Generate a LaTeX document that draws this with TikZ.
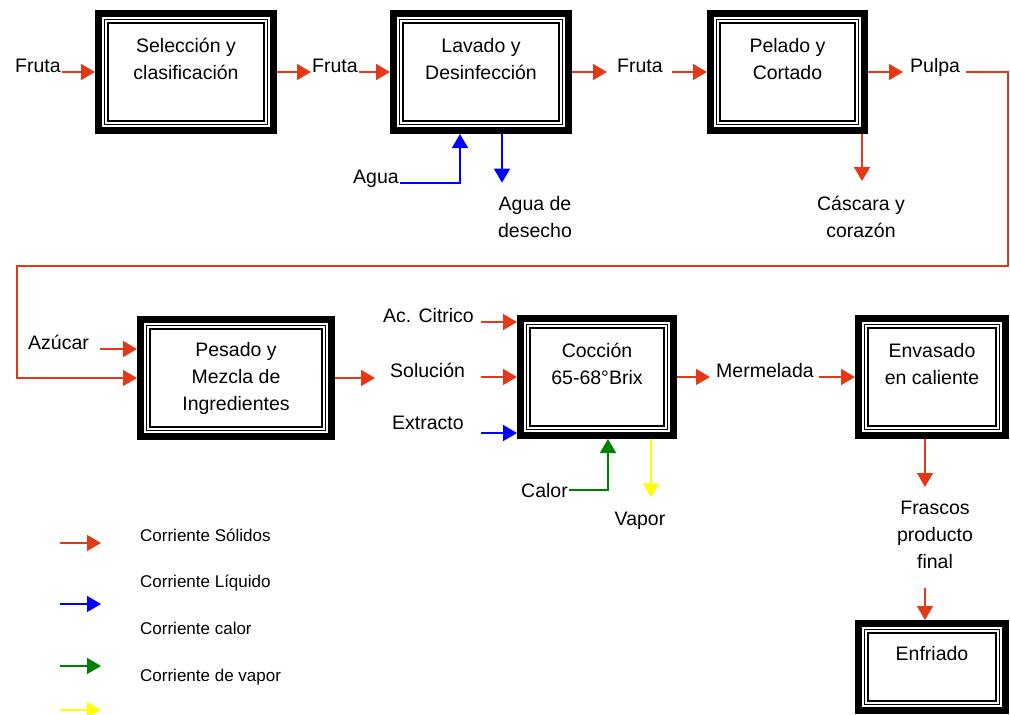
\documentclass[tikz,border=0pt]{standalone}
\usepackage{fontspec}
\setmainfont{Liberation Sans}
\usetikzlibrary{arrows.meta,positioning,calc}
\definecolor{solred}{RGB}{226,58,24}
\definecolor{liqblue}{RGB}{0,0,255}
\definecolor{calgreen}{RGB}{0,128,0}
\definecolor{vapyellow}{RGB}{255,255,0}
\newcommand\boxfont{\fontsize{19.5}{27}\selectfont}
\newcommand\legfont{\fontsize{17}{20}\selectfont}
\tikzset{
  proc/.style = {draw, line width = 7pt, align = center, font = \boxfont, inner sep = 0pt},
  lbl/.style = {align = center, font = \boxfont, inner sep = 1pt},
  leg/.style = {anchor = base west, font = \legfont, inner sep = 0pt},
  flow/.style = {line width = 1.6pt, -{Triangle[length = 14pt, width = 16pt]}},
  sol/.style = {flow, solred},
  liq/.style = {flow, liqblue},
  cal/.style = {flow, calgreen},
  vap/.style = {flow, vapyellow},
}

\begin{document}
\begin{tikzpicture}[x = 1pt, y = -1pt]
\useasboundingbox (0,0) rectangle (1010,715);
\node[proc, minimum width = 175, minimum height = 117] (sel) at (186,72) {Selección y\\clasificación\\\mbox{}};
\node[proc, minimum width = 175, minimum height = 117] (lav) at (481,72) {Lavado y\\Desinfección\\\mbox{}};
\node[proc, minimum width = 154, minimum height = 117] (pel) at (787.5,72) {Pelado y\\Cortado\\\mbox{}};
\node[proc, minimum width = 191, minimum height = 117] (pes) at (236,378) {Pesado y\\Mezcla de\\Ingredientes};
\node[proc, minimum width = 153, minimum height = 117] (coc) at (597,377) {Cocción\\65-68°Brix\\\mbox{}};
\node[proc, minimum width = 147, minimum height = 117] (env) at (932,377) {Envasado\\en caliente\\\mbox{}};
\node[proc, minimum width = 147, minimum height = 87] (enf) at (932,667) {Enfriado\\\mbox{}};
\foreach \n in {sel,lav,pel,pes,coc,env,enf}
  \draw[double, line width = 1.7pt, double distance = 2pt] ([shift = {(11.4pt,11.4pt)}]\n.south west) rectangle ([shift = {(-11.4pt,-11.4pt)}]\n.north east);

\node[lbl, anchor = base west] (fruta1) at (14,72) {Fruta};
\node[lbl, anchor = base west] (fruta2) at (311,72) {Fruta};
\node[lbl, anchor = base west] (fruta3) at (616,72) {Fruta};
\node[lbl, anchor = base west] (pulpa) at (909,72) {Pulpa};
\node[lbl, anchor = base west] (agua) at (352,183) {Agua};
\node[lbl] (desecho) at (535,217.5) {Agua de\\desecho};
\node[lbl] (cascara) at (861,217) {Cáscara y\\corazón};
\node[lbl, anchor = base west] (azucar) at (27,349) {Azúcar};
\node[lbl, anchor = base west] (citrico) at (382,322) {Ac. Citrico};
\node[lbl, anchor = base west] (solucion) at (389,377) {Solución};
\node[lbl, anchor = base west] (extracto) at (391,429) {Extracto};
\node[lbl, anchor = base west] (calor) at (520,497) {Calor};
\node[lbl, anchor = base] (vapor) at (640,525) {Vapor};
\node[lbl, anchor = base west] (mermelada) at (715,377) {Mermelada};
\node[lbl] (frascos) at (935,535) {Frascos\\producto\\final};
\coordinate (turnR) at (1008,266);
\coordinate (turnL) at (17,266);

\draw[sol] (fruta1.base east) -- (sel.west |- fruta1.base);
\draw[sol] (sel.east) -- (fruta2.west |- sel.east);
\draw[sol] (fruta2.base east) -- (lav.west |- fruta2.base);
\draw[sol] (lav.east) -- ([xshift = -9pt]fruta3.west |- lav.east);
\draw[sol] ([xshift = 8pt]fruta3.base east) -- (pel.west |- fruta3.base);
\draw[sol] (pel.east) -- ([xshift = -6pt]pulpa.west |- pel.east);
\draw[sol] ([xshift = 5pt]pulpa.base east) -| (turnR) -- (turnL) |- (pes.west);
\draw[liq] (agua.base east) -| ([xshift = -21pt]lav.south);
\draw[liq] ([xshift = 21pt]lav.south) -- ([xshift = 21pt, yshift = 13pt]lav.south |- desecho.north);
\draw[sol] ([xshift = 74.5pt]pel.south) -- ([xshift = 74.5pt, yshift = 14pt]pel.south |- cascara.north);
\draw[sol] ([xshift = 10pt]azucar.base east) -- (pes.west |- azucar.base);
\draw[sol] (pes.east) -- ([xshift = -14pt]solucion.west |- pes.east);
\draw[sol] ([shift = {(-36pt,55pt)}]coc.west) -- ([yshift = 55pt]coc.west);
\draw[sol] ([xshift = -36pt]coc.west) -- (coc.west);
\draw[liq] ([shift = {(-36pt,-56pt)}]coc.west) -- ([yshift = -56pt]coc.west);
\draw[cal] (calor.east) -| ([xshift = 11pt]coc.south);
\draw[vap] ([xshift = 54pt]coc.south) -- ([xshift = 54pt, yshift = 13pt]coc.south |- vapor.north);
\draw[sol] (coc.east) -- ([xshift = -5pt]mermelada.west |- coc.east);
\draw[sol] ([xshift = 4pt]mermelada.base east) -- (env.west |- mermelada.base);
\draw[sol] ([xshift = -7pt]env.south) -- ([xshift = -7pt, yshift = 13pt]env.south |- frascos.north);
\draw[sol] ([xshift = -7pt, yshift = -18pt]enf.north |- frascos.south) -- ([xshift = -7pt]enf.north);

\node[leg] (leg1) at (140,541) {Corriente Sólidos};
\node[leg] (leg2) at (140,587) {Corriente Líquido};
\node[leg] (leg3) at (140,634) {Corriente calor};
\node[leg] (leg4) at (140,681) {Corriente de vapor};
\foreach \y/\st in {543/sol, 604/liq, 666/cal, 710/vap}
  \draw[\st] (60,\y) -- (101,\y);
\end{tikzpicture}
\end{document}
